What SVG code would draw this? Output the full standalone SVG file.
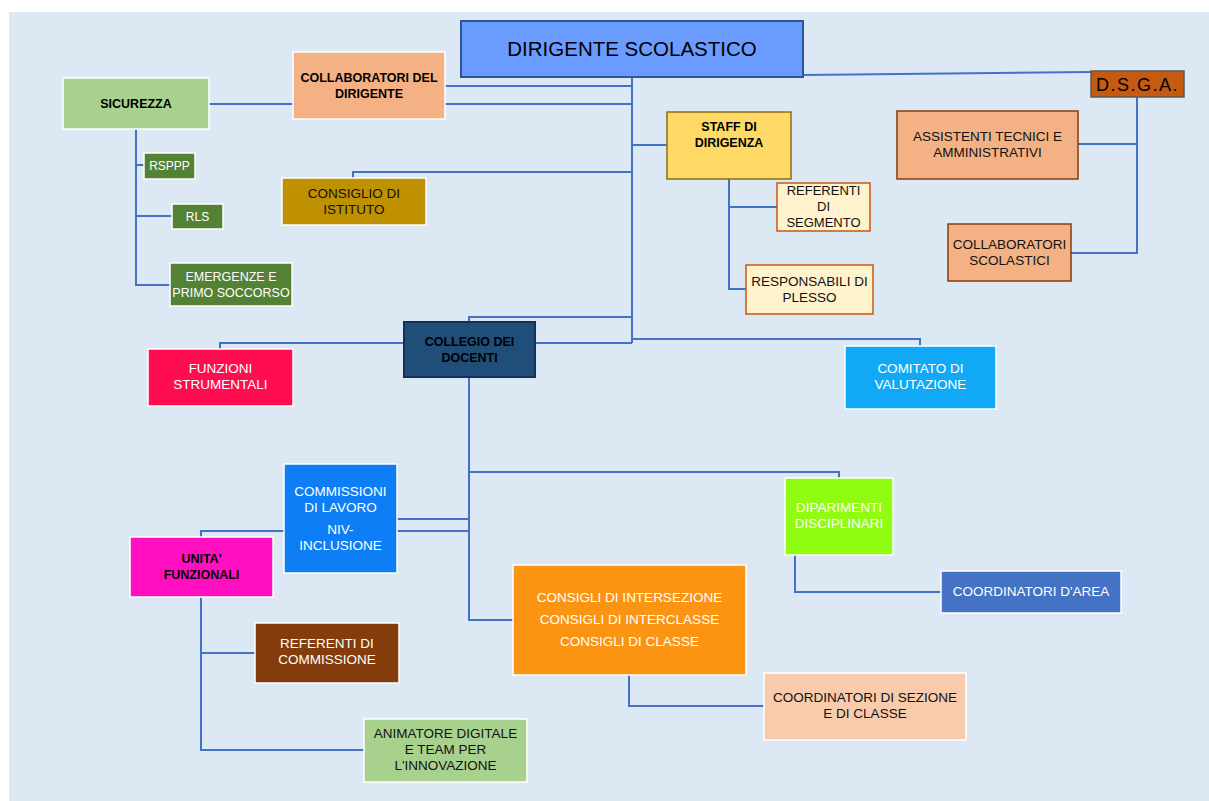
<svg xmlns="http://www.w3.org/2000/svg" width="1209" height="801" viewBox="0 0 1209 801">
<style>
.c{fill:none;stroke:#4472c4;stroke-width:2}
.n{stroke:#ffffff;stroke-width:1.5}
text{font-family:"Liberation Sans",Arial,sans-serif;text-anchor:middle}
.r{font-size:13.5px}
.b{font-size:12.5px;font-weight:bold;fill:#000}
.w{fill:#ffffff}
.k{fill:#111111}
</style>
<rect x="0" y="0" width="1209" height="801" fill="#ffffff"/>
<rect x="9" y="12" width="1200" height="789" fill="#dde8f5"/>
<g id="connectors">
<path class="c" d="M209,104 H293"/>
<path class="c" d="M445,86 H632"/>
<path class="c" d="M445,104 H632"/>
<path class="c" d="M632,77 V343"/>
<path class="c" d="M632,172 H353 V178"/>
<path class="c" d="M632,145 H667"/>
<path class="c" d="M729,179 V289 H746"/>
<path class="c" d="M729,207 H777"/>
<path class="c" d="M803,75 L1091,72"/>
<path class="c" d="M1137,97 V253 H1071"/>
<path class="c" d="M1137,144 H1078"/>
<path class="c" d="M136,129 V285 H170"/>
<path class="c" d="M136,165 H144"/>
<path class="c" d="M136,216 H172"/>
<path class="c" d="M469,322 V317 H632"/>
<path class="c" d="M535,343 H632"/>
<path class="c" d="M632,339 H920 V346"/>
<path class="c" d="M404,343 H220 V349"/>
<path class="c" d="M469,377 V620 H513"/>
<path class="c" d="M469,472 H839 V478"/>
<path class="c" d="M397,519 H469"/>
<path class="c" d="M397,531 H469"/>
<path class="c" d="M284,531 H201 V537"/>
<path class="c" d="M201,597 V750 H364"/>
<path class="c" d="M201,653 H255"/>
<path class="c" d="M629,675 V706 H764"/>
<path class="c" d="M795,555 V592 H941"/>
</g>
<g id="dirigente">
<rect x="461" y="21" width="342" height="56" fill="#6a9bff" stroke="#2f5597" stroke-width="2"/>
<text x="632" y="56" style="font-size:20.5px" fill="#000">DIRIGENTE SCOLASTICO</text>
</g>
<g id="collaboratori-dirigente">
<rect class="n" x="293" y="52" width="152" height="67" fill="#f4b183"/>
<text class="b" x="369" y="82">COLLABORATORI DEL</text>
<text class="b" x="369" y="98">DIRIGENTE</text>
</g>
<g id="sicurezza">
<rect class="n" x="63" y="78" width="146" height="51" fill="#a9d18e"/>
<text class="b" x="136" y="108">SICUREZZA</text>
</g>
<g id="rsppp">
<rect class="n" x="144" y="153" width="51" height="26" fill="#548235"/>
<text class="w" x="169.5" y="170" style="font-size:12px">RSPPP</text>
</g>
<g id="rls">
<rect class="n" x="172" y="204" width="51" height="25" fill="#548235"/>
<text class="w" x="197.5" y="221" style="font-size:12px">RLS</text>
</g>
<g id="emergenze">
<rect class="n" x="170" y="263" width="122" height="43" fill="#548235"/>
<text class="w" x="231" y="281" style="font-size:12.5px">EMERGENZE E</text>
<text class="w" x="231" y="297" style="font-size:12.5px">PRIMO SOCCORSO</text>
</g>
<g id="consiglio-istituto">
<rect class="n" x="282" y="178" width="144" height="47" fill="#bf9000"/>
<text class="r k" x="354" y="198">CONSIGLIO DI</text>
<text class="r k" x="354" y="214">ISTITUTO</text>
</g>
<g id="staff">
<rect x="667" y="112" width="124" height="67" fill="#ffd966" stroke="#8a6d1a" stroke-width="1.5"/>
<text class="b" x="729" y="131">STAFF DI</text>
<text class="b" x="729" y="147">DIRIGENZA</text>
</g>
<g id="referenti-segmento">
<rect x="777" y="183" width="93" height="48" fill="#fff2cc" stroke="#c55a11" stroke-width="1.5"/>
<text class="k" x="823.5" y="195" style="font-size:13px">REFERENTI</text>
<text class="k" x="823.5" y="211" style="font-size:13px">DI</text>
<text class="k" x="823.5" y="227" style="font-size:13px">SEGMENTO</text>
</g>
<g id="responsabili-plesso">
<rect x="746" y="265" width="127" height="49" fill="#fff2cc" stroke="#c55a11" stroke-width="1.5"/>
<text class="r k" x="809.5" y="286">RESPONSABILI DI</text>
<text class="r k" x="809.5" y="302">PLESSO</text>
</g>
<g id="dsga">
<rect x="1091" y="71" width="93" height="26" fill="#c55a11" stroke="#595959" stroke-width="1.5"/>
<text x="1137.5" y="91" style="font-size:18px;letter-spacing:1.5px" fill="#000">D.S.G.A.</text>
</g>
<g id="assistenti">
<rect x="897" y="111" width="181" height="68" fill="#f4b183" stroke="#843c0c" stroke-width="1.5"/>
<text class="r k" x="987.5" y="141">ASSISTENTI TECNICI E</text>
<text class="r k" x="987.5" y="157">AMMINISTRATIVI</text>
</g>
<g id="collaboratori-scolastici">
<rect x="948" y="224" width="123" height="57" fill="#f4b183" stroke="#843c0c" stroke-width="1.5"/>
<text class="r k" x="1009.5" y="249">COLLABORATORI</text>
<text class="r k" x="1009.5" y="265">SCOLASTICI</text>
</g>
<g id="collegio">
<rect x="404" y="322" width="131" height="55" fill="#1f4e79" stroke="#14305a" stroke-width="2"/>
<text class="b" x="469.5" y="346">COLLEGIO DEI</text>
<text class="b" x="469.5" y="362">DOCENTI</text>
</g>
<g id="funzioni">
<rect class="n" x="148" y="349" width="145" height="57" fill="#ff0d50"/>
<text class="r w" x="220.5" y="373">FUNZIONI</text>
<text class="r w" x="220.5" y="389">STRUMENTALI</text>
</g>
<g id="comitato">
<rect class="n" x="845" y="346" width="151" height="63" fill="#11a9f5"/>
<text class="r w" x="920.5" y="373">COMITATO DI</text>
<text class="r w" x="920.5" y="389">VALUTAZIONE</text>
</g>
<g id="commissioni">
<rect class="n" x="284" y="464" width="113" height="109" fill="#0d7ef5"/>
<text class="r w" x="340.5" y="496">COMMISSIONI</text>
<text class="r w" x="340.5" y="512">DI LAVORO</text>
<text class="r w" x="340.5" y="534">NIV-</text>
<text class="r w" x="340.5" y="550">INCLUSIONE</text>
</g>
<g id="unita">
<rect class="n" x="130" y="537" width="143" height="60" fill="#ff0fbf"/>
<text class="b" x="201.5" y="563">UNITA'</text>
<text class="b" x="201.5" y="579">FUNZIONALI</text>
</g>
<g id="dipartimenti">
<rect class="n" x="785" y="478" width="108" height="77" fill="#90fc12"/>
<text class="r w" x="839" y="512">DIPARIMENTI</text>
<text class="r w" x="839" y="528">DISCIPLINARI</text>
</g>
<g id="coordinatori-area">
<rect class="n" x="941" y="571" width="180" height="42" fill="#4472c4"/>
<text class="r w" x="1031" y="596">COORDINATORI D'AREA</text>
</g>
<g id="consigli">
<rect class="n" x="513" y="565" width="233" height="110" fill="#fa9412"/>
<text class="r w" x="629.5" y="602">CONSIGLI DI INTERSEZIONE</text>
<text class="r w" x="629.5" y="624">CONSIGLI DI INTERCLASSE</text>
<text class="r w" x="629.5" y="646">CONSIGLI DI CLASSE</text>
</g>
<g id="coordinatori-sezione">
<rect class="n" x="764" y="673" width="202" height="67" fill="#f8cbad"/>
<text class="r k" x="865" y="702">COORDINATORI DI SEZIONE</text>
<text class="r k" x="865" y="718">E DI CLASSE</text>
</g>
<g id="referenti-commissione">
<rect class="n" x="255" y="623" width="144" height="60" fill="#843c0c"/>
<text class="r w" x="327" y="648">REFERENTI DI</text>
<text class="r w" x="327" y="664">COMMISSIONE</text>
</g>
<g id="animatore">
<rect class="n" x="364" y="719" width="163" height="63" fill="#a9d18e"/>
<text class="r k" x="445.5" y="738">ANIMATORE DIGITALE</text>
<text class="r k" x="445.5" y="754">E TEAM PER</text>
<text class="r k" x="445.5" y="770">L'INNOVAZIONE</text>
</g>
</svg>
